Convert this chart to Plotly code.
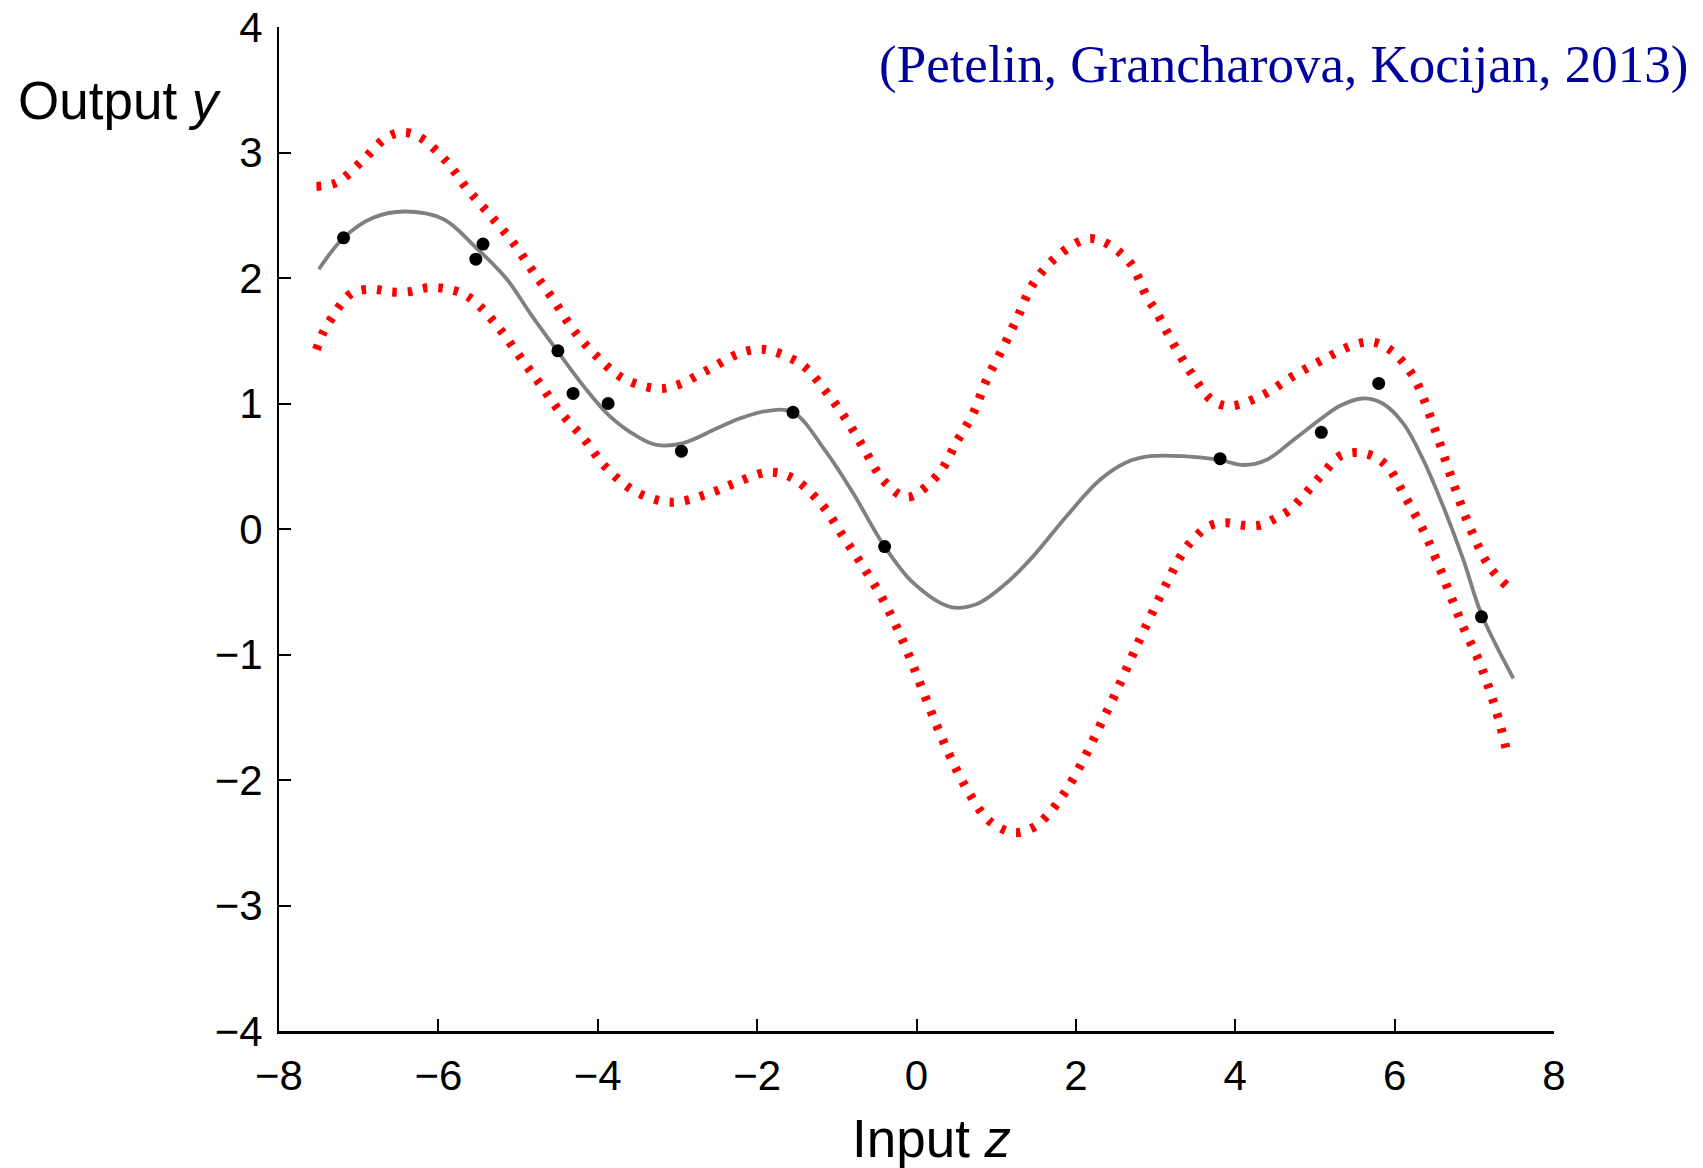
import plotly.graph_objects as go

# ---- data ----
obs_x = [-7.19, -5.53, -5.44, -4.50, -4.31, -3.87, -2.95, -1.55, -0.40, 3.81, 5.08, 5.80, 7.09]
obs_y = [2.32, 2.15, 2.27, 1.42, 1.08, 1.00, 0.62, 0.93, -0.14, 0.56, 0.77, 1.16, -0.70]

mean_x = [-7.50, -7.19, -6.82, -6.42, -5.94, -5.54, -5.14, -4.85, -4.52, -4.18, -3.85, -3.51,
          -3.26, -2.93, -2.51, -2.22, -1.88, -1.55, -1.13, -0.80, -0.40, -0.04, 0.42, 0.75,
          1.13, 1.46, 1.88, 2.30, 2.63, 2.93, 3.35, 3.81, 4.10, 4.39, 4.73, 5.06, 5.31, 5.60,
          5.85, 6.11, 6.36, 6.61, 6.86, 7.09, 7.49]
mean_y = [2.07, 2.32, 2.48, 2.53, 2.47, 2.25, 1.99, 1.72, 1.43, 1.14, 0.90, 0.74,
          0.67, 0.685, 0.80, 0.88, 0.94, 0.93, 0.61, 0.29, -0.14, -0.43, -0.62, -0.60,
          -0.43, -0.22, 0.10, 0.39, 0.53, 0.58, 0.58, 0.55, 0.51, 0.55, 0.71, 0.87, 0.98, 1.04,
          1.00, 0.84, 0.55, 0.18, -0.24, -0.68, -1.19]

upper_x = [-7.53, -7.28, -6.96, -6.65, -6.44, -6.23, -5.90, -5.65, -5.35, -5.06, -4.81, -4.56,
           -4.31, -4.02, -3.68, -3.26, -3.03, -2.64, -2.26, -2.03, -1.82, -1.42, -1.13, -0.88,
           -0.65, -0.42, -0.17, -0.04, 0.29, 0.50, 0.71, 0.88, 1.09, 1.27, 1.46, 1.76, 2.13,
           2.34, 2.68, 2.89, 3.01, 3.22, 3.45, 3.70, 3.93, 4.35, 4.73, 5.10, 5.50, 5.72, 5.94,
           6.23, 6.48, 6.69, 6.94, 7.19, 7.42]
upper_y = [2.73, 2.76, 2.93, 3.12, 3.16, 3.12, 2.93, 2.72, 2.50, 2.28, 2.05, 1.83,
           1.59, 1.38, 1.20, 1.12, 1.14, 1.26, 1.39, 1.43, 1.42, 1.30, 1.09, 0.87,
           0.63, 0.39, 0.26, 0.265, 0.45, 0.69, 0.92, 1.19, 1.45, 1.69, 1.95, 2.17, 2.31,
           2.29, 2.12, 1.85, 1.73, 1.48, 1.24, 1.03, 0.98, 1.07, 1.22, 1.35, 1.47, 1.49, 1.43,
           1.22, 0.84, 0.45, 0.02, -0.30, -0.46]

lower_x = [-7.53, -7.45, -7.34, -7.21, -7.07, -6.82, -6.61, -6.38, -6.17, -5.96, -5.73, -5.54,
           -5.25, -4.98, -4.73, -4.48, -4.18, -3.91, -3.56, -3.18, -2.95, -2.53, -2.26, -1.90,
           -1.69, -1.49, -1.17, -0.92, -0.67, -0.44, -0.25, -0.08, 0.08, 0.25, 0.42, 0.62,
           0.87, 1.04, 1.25, 1.46, 1.63, 1.88, 2.11, 2.30, 2.49, 2.68, 2.86, 3.14, 3.35, 3.49,
           3.66, 3.88, 4.10, 4.31, 4.52, 4.68, 4.85, 5.00, 5.14, 5.31, 5.52, 5.73, 5.92, 6.13,
           6.36, 6.52, 6.69, 6.86, 7.05, 7.19, 7.32, 7.42]
lower_y = [1.43, 1.56, 1.68, 1.80, 1.885, 1.91, 1.89, 1.89, 1.92, 1.92, 1.885, 1.81,
           1.61, 1.375, 1.16, 0.94, 0.725, 0.50, 0.31, 0.22, 0.22, 0.30, 0.37, 0.45,
           0.44, 0.38, 0.18, -0.06, -0.30, -0.54, -0.78, -1.03, -1.29, -1.56, -1.81, -2.06,
           -2.30, -2.38, -2.42, -2.38, -2.29, -2.08, -1.82, -1.57, -1.32, -1.05, -0.80, -0.43, -0.18, -0.07,
           0.02, 0.05, 0.03, 0.03, 0.09, 0.15, 0.26, 0.37, 0.47, 0.58, 0.61, 0.58, 0.49, 0.26,
           -0.01, -0.24, -0.51, -0.78, -1.04, -1.28, -1.55, -1.81]

x_ticks = [-8, -6, -4, -2, 0, 2, 4, 6, 8]
y_ticks = [-4, -3, -2, -1, 0, 1, 2, 3, 4]

RED = "#FF0000"
band_line = dict(color=RED, width=9, dash="4.5px,11px", shape="spline", smoothing=1.0)

fig = go.Figure()
fig.add_trace(go.Scatter(x=upper_x, y=upper_y, mode="lines", line=band_line, hoverinfo="skip"))
fig.add_trace(go.Scatter(x=lower_x, y=lower_y, mode="lines", line=band_line, hoverinfo="skip"))
fig.add_trace(go.Scatter(x=mean_x, y=mean_y, mode="lines",
                         line=dict(color="#808080", width=3.8, shape="spline", smoothing=1.0)))
fig.add_trace(go.Scatter(x=obs_x, y=obs_y, mode="markers",
                         marker=dict(color="black", size=13, line=dict(width=0))))

L, R, T, B = 278.5, 149, 27.3, 137
W, H = 1703, 1168
pw, ph = W - L - R, H - T - B

def px(xp):
    return (xp - L) / pw

def py(yp):
    return (H - B - yp) / ph

axis_font = dict(family="Liberation Sans, Arial, sans-serif", size=42, color="black")

fig.update_layout(
    width=W, height=H,
    margin=dict(l=L, r=R, t=T, b=B, pad=0, autoexpand=False),
    paper_bgcolor="white", plot_bgcolor="white",
    showlegend=False,
    xaxis=dict(range=[-8, 8], tickvals=x_ticks, ticks="inside", ticklen=12, tickwidth=1.5,
               tickcolor="black", showline=True, linecolor="black", linewidth=2.5,
               showgrid=False, zeroline=False, mirror=False, tickfont=axis_font,
               ticklabelstandoff=6, automargin=False, fixedrange=True),
    yaxis=dict(range=[-4, 4], tickvals=y_ticks, ticks="inside", ticklen=12, tickwidth=1.5,
               tickcolor="black", showline=True, linecolor="black", linewidth=2,
               showgrid=False, zeroline=False, mirror=False, tickfont=axis_font,
               ticklabelstandoff=6, automargin=False, fixedrange=True),
    annotations=[
        dict(text="Output <i>y</i>", xref="paper", yref="paper", x=px(15), y=py(101),
             xanchor="left", yanchor="middle", showarrow=False,
             font=dict(family="Liberation Sans, Arial, sans-serif", size=53, color="black")),
        dict(text="Input <i>z</i>", xref="paper", yref="paper", x=px(931), y=py(1138),
             xanchor="center", yanchor="middle", showarrow=False,
             font=dict(family="Liberation Sans, Arial, sans-serif", size=53, color="black")),
        dict(text="(Petelin, Grancharova, Kocijan, 2013)", xref="paper", yref="paper",
             x=px(1690), y=py(65), xanchor="right", yanchor="middle", showarrow=False,
             font=dict(family="Liberation Serif, Times New Roman, serif", size=53, color="#00009C")),
    ],
)

fig.write_html("out.html", config={"displayModeBar": False},
               post_script="document.body.style.margin='0';document.body.style.overflow='hidden';")
